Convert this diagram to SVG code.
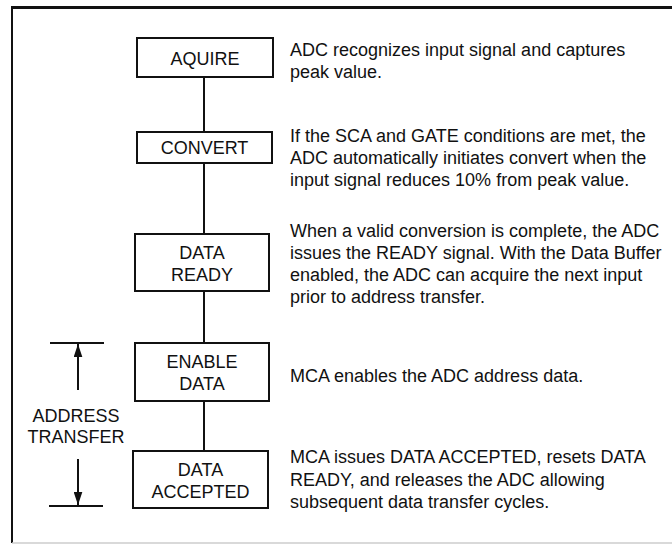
<svg xmlns="http://www.w3.org/2000/svg" width="672" height="546" viewBox="0 0 672 546">
  <style>
    .box { fill: #fff; stroke: #111; stroke-width: 2; }
    .lbl { font-family: "Liberation Sans", Arial, sans-serif; font-size: 18px; fill: #111; text-anchor: middle; }
    .desc { font-family: "Liberation Sans", Arial, sans-serif; font-size: 18px; fill: #111; }
    .conn { stroke: #111; stroke-width: 2; fill: none; }
  </style>
  <defs>
    <marker id="ah" viewBox="0 0 12 8" refX="12" refY="4" markerWidth="6.5" markerHeight="4.5" markerUnits="strokeWidth" orient="auto">
      <path d="M0,0 L12,4 L0,8 Z" fill="#111"/>
    </marker>
  </defs>
  <rect width="672" height="546" fill="#fff"/>
  <g id="frame">
    <line x1="12" y1="7.5" x2="672" y2="7.5" stroke="#111" stroke-width="3"/>
    <line x1="12" y1="6" x2="12" y2="543" stroke="#111" stroke-width="2"/>
    <line x1="12" y1="543" x2="672" y2="543" stroke="#ccc" stroke-width="1.5"/>
  </g>
  <g id="connectors">
    <line class="conn" x1="204" y1="77" x2="204" y2="132"/>
    <line class="conn" x1="204" y1="163" x2="204" y2="234"/>
    <line class="conn" x1="204" y1="291" x2="204" y2="343"/>
    <line class="conn" x1="204" y1="401" x2="204" y2="451"/>
    <line class="conn" x1="50" y1="343" x2="104" y2="343"/>
    <line class="conn" x1="78" y1="390" x2="78" y2="344" marker-end="url(#ah)"/>
    <line class="conn" x1="49" y1="506" x2="103" y2="506"/>
    <line class="conn" x1="78" y1="459" x2="78" y2="505" marker-end="url(#ah)"/>
  </g>
  <g id="aquire">
    <rect class="box" x="137" y="38" width="136" height="39"/>
    <text class="lbl" x="205" y="65">AQUIRE</text>
  </g>
  <g id="convert">
    <rect class="box" x="137" y="132" width="135" height="31"/>
    <text class="lbl" x="204.5" y="154">CONVERT</text>
  </g>
  <g id="data-ready">
    <rect class="box" x="135" y="234" width="134" height="57"/>
    <text class="lbl" x="202" y="259">DATA</text>
    <text class="lbl" x="202" y="281">READY</text>
  </g>
  <g id="enable-data">
    <rect class="box" x="135" y="343" width="134" height="58"/>
    <text class="lbl" x="202" y="368">ENABLE</text>
    <text class="lbl" x="202" y="390">DATA</text>
  </g>
  <g id="data-accepted">
    <rect class="box" x="133" y="451" width="135" height="57"/>
    <text class="lbl" x="200.5" y="476">DATA</text>
    <text class="lbl" x="200.5" y="498">ACCEPTED</text>
  </g>
  <g id="address-transfer">
    <text class="lbl" x="76" y="422">ADDRESS</text>
    <text class="lbl" x="76" y="443">TRANSFER</text>
  </g>
  <g id="desc-aquire">
    <text class="desc" x="290" y="56">ADC recognizes input signal and captures</text>
    <text class="desc" x="290" y="78">peak value.</text>
  </g>
  <g id="desc-convert">
    <text class="desc" x="290" y="142">If the SCA and GATE conditions are met, the</text>
    <text class="desc" x="290" y="164">ADC automatically initiates convert when the</text>
    <text class="desc" x="290" y="186">input signal reduces 10% from peak value.</text>
  </g>
  <g id="desc-ready">
    <text class="desc" x="290" y="237">When a valid conversion is complete, the ADC</text>
    <text class="desc" x="290" y="259">issues the READY signal. With the Data Buffer</text>
    <text class="desc" x="290" y="281">enabled, the ADC can acquire the next input</text>
    <text class="desc" x="290" y="303">prior to address transfer.</text>
  </g>
  <g id="desc-enable">
    <text class="desc" x="290" y="382">MCA enables the ADC address data.</text>
  </g>
  <g id="desc-accepted">
    <text class="desc" x="290" y="463">MCA issues DATA ACCEPTED, resets DATA</text>
    <text class="desc" x="290" y="485.5">READY, and releases the ADC allowing</text>
    <text class="desc" x="290" y="508">subsequent data transfer cycles.</text>
  </g>
</svg>
